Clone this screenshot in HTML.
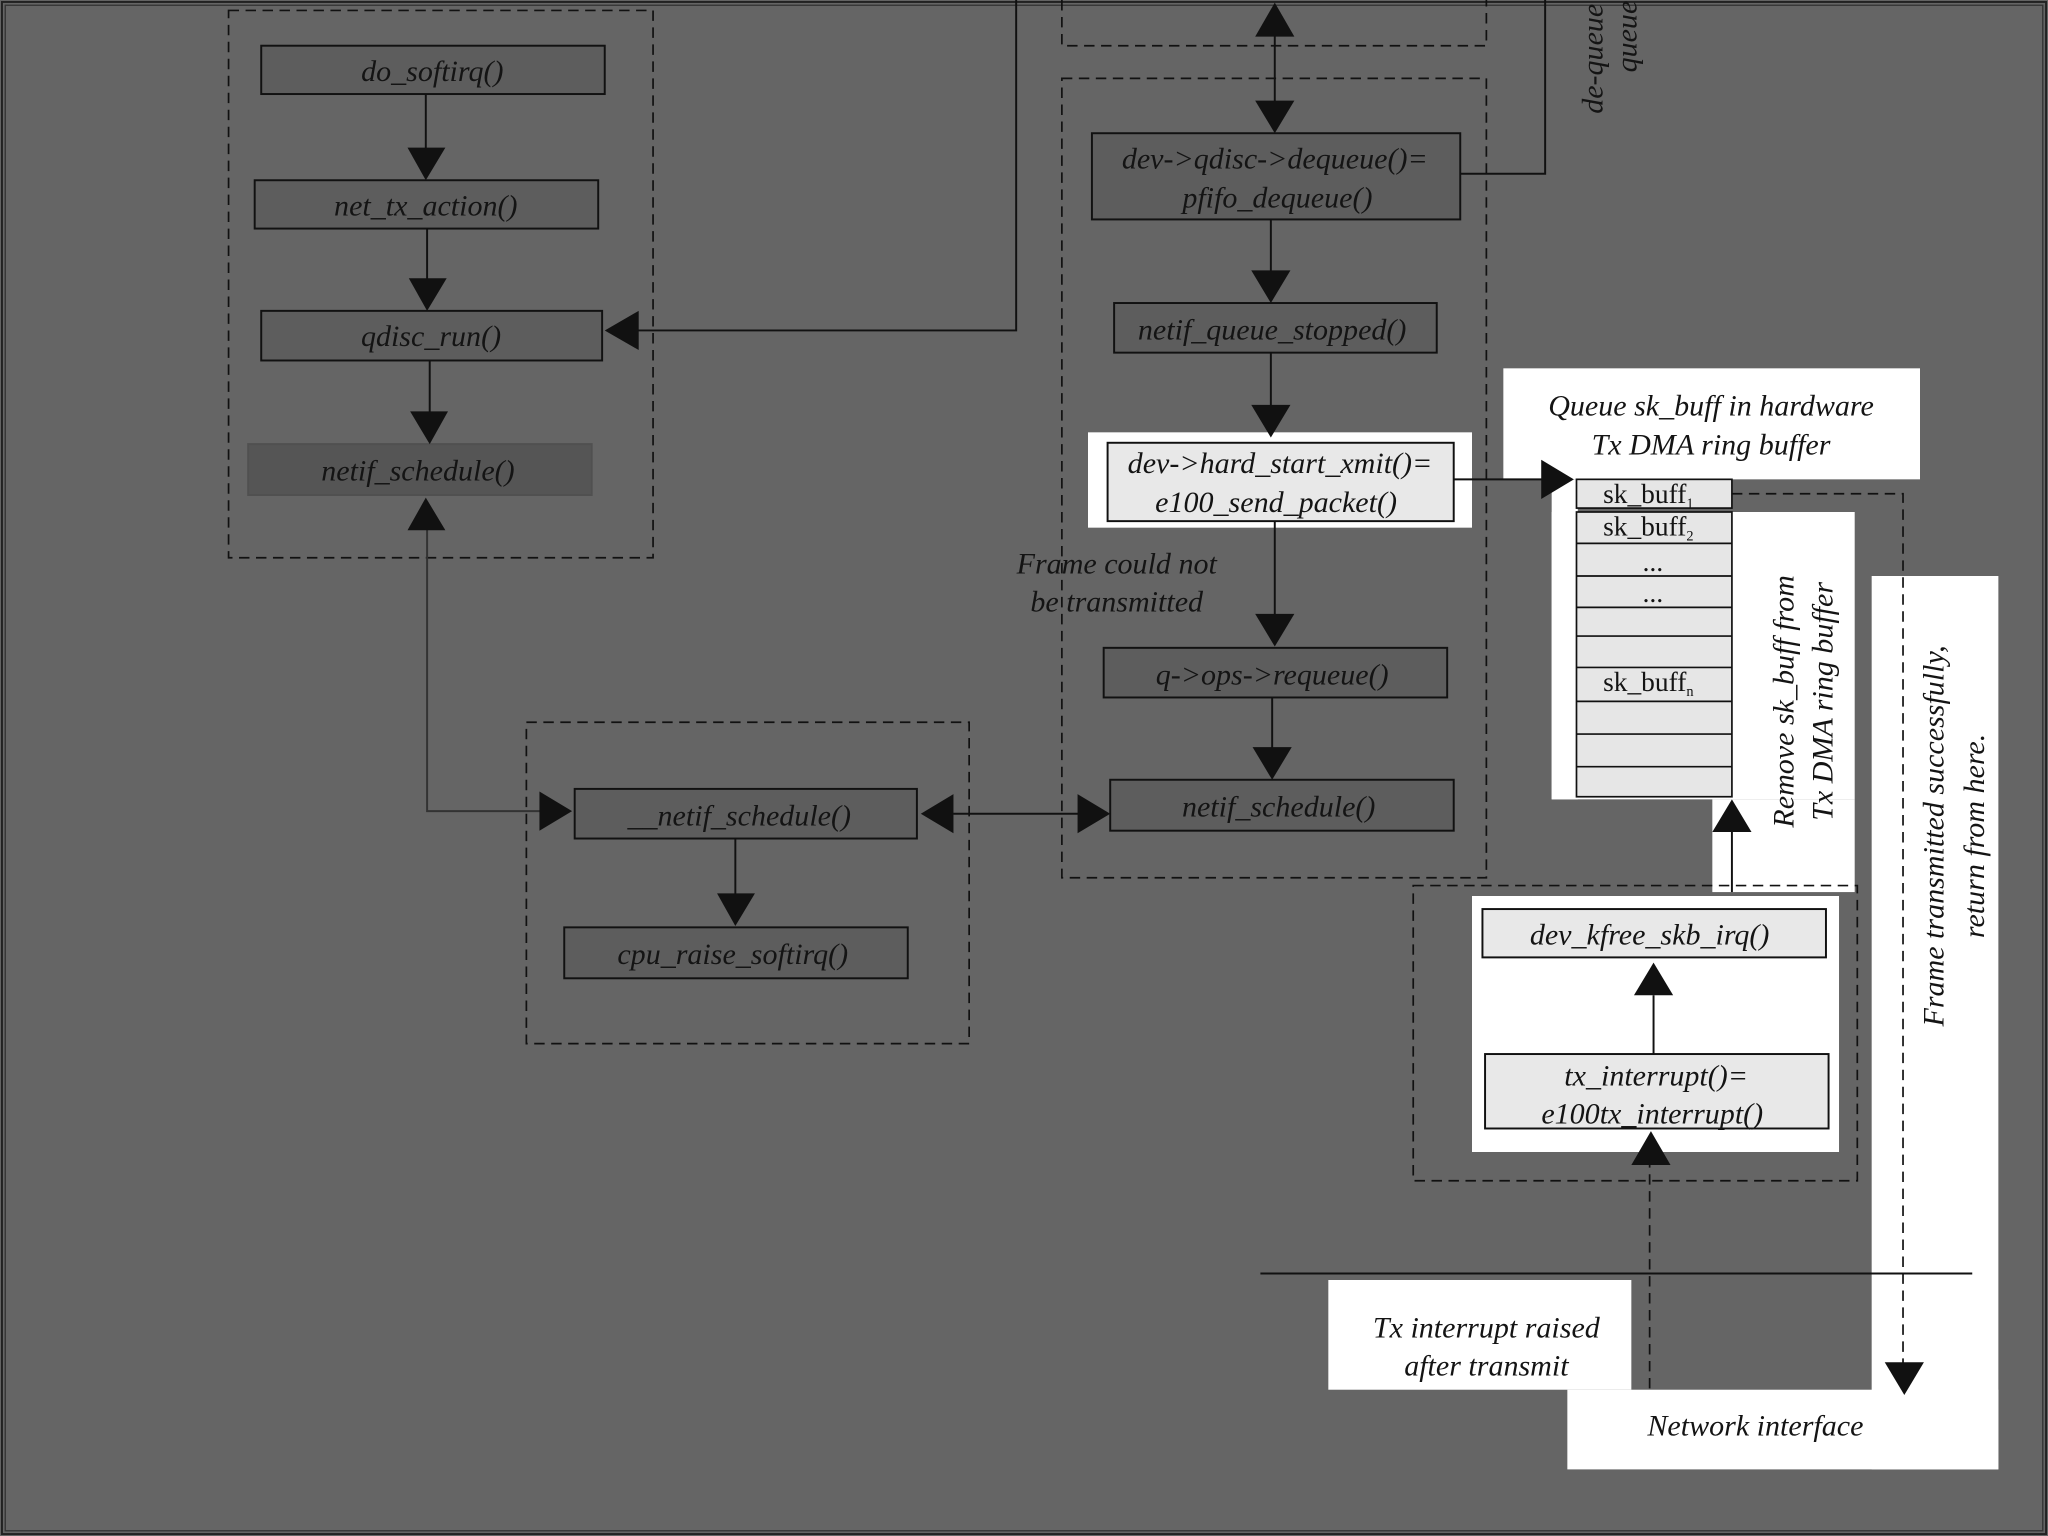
<!DOCTYPE html>
<html><head><style>
html,body{margin:0;padding:0;background:#656565;}
svg{display:block}
text{font-family:"Liberation Serif",serif;font-style:italic;fill:#141414;}
</style></head><body>
<svg width="2048" height="1536" viewBox="0 0 1568 1176" xmlns="http://www.w3.org/2000/svg">
<rect x="0" y="0" width="1568" height="1176" fill="#656565"/>
<rect x="1.5" y="1.5" width="1565" height="1173" fill="none" stroke="#222" stroke-width="1.5"/>
<rect x="4" y="4" width="1560" height="1168" fill="none" stroke="#333" stroke-width="1"/>

<!-- white panels -->
<rect x="833" y="331" width="294" height="73" fill="#fff"/>
<rect x="1151" y="282" width="319" height="85" fill="#fff"/>
<rect x="1188" y="367" width="20" height="245" fill="#fff"/>
<rect x="1188" y="392" width="232" height="220" fill="#fff"/>
<rect x="1311" y="612" width="109" height="71" fill="#fff"/>
<rect x="1433" y="441" width="97" height="684" fill="#fff"/>
<rect x="1127" y="686" width="281" height="196" fill="#fff"/>
<rect x="1017" y="980" width="232" height="84" fill="#fff"/>
<rect x="1200" y="1064" width="330" height="61" fill="#fff"/>

<g fill="none" stroke="#111" stroke-width="1.3" stroke-dasharray="8,5">
<rect x="175" y="8" width="325" height="419"/>
<rect x="403" y="553" width="339" height="246"/>
<path d="M813 0 V35 H1138 V0"/>
<rect x="813" y="60" width="325" height="612"/>
<rect x="1082" y="678" width="340" height="226"/>
<path d="M1326 378 H1457 V1045"/>
<path d="M1263 1063 V892"/>
</g>

<!-- boxes -->
<g stroke="#111" stroke-width="1.5" fill="#5d5d5d">
<rect x="200" y="35" width="263" height="37"/>
<rect x="195" y="138" width="263" height="37"/>
<rect x="200" y="238" width="261" height="38"/>
<rect x="190" y="340" width="263" height="39" fill="#555" stroke="#505050"/>
<rect x="440" y="604" width="262" height="38"/>
<rect x="432" y="710" width="263" height="39"/>
<rect x="836" y="102" width="282" height="66"/>
<rect x="853" y="232" width="247" height="38"/>
<rect x="848" y="339" width="265" height="60" fill="#e8e8e8"/>
<rect x="845" y="496" width="263" height="38"/>
<rect x="850" y="597" width="263" height="39"/>
<rect x="1135" y="696" width="263" height="37" fill="#e8e8e8"/>
<rect x="1137" y="807" width="263" height="57" fill="#e8e8e8"/>
</g>
<!-- ring buffer -->
<g stroke="#111" stroke-width="1.3" fill="#e6e6e6">
<rect x="1207" y="367" width="119" height="22"/>
<rect x="1207" y="392" width="119" height="218"/>
<path d="M1207 416 H1326 M1207 441 H1326 M1207 465 H1326 M1207 487 H1326 M1207 511 H1326 M1207 537 H1326 M1207 562 H1326 M1207 587 H1326" fill="none"/>
</g>

<!-- solid lines -->
<g stroke="#111" stroke-width="1.5" fill="none">
<path d="M326 72 V120"/><path d="M327 175 V220"/><path d="M329 276 V320"/>
<path d="M778 0 V253 H488"/>
<path d="M327 405 V621 H415" stroke="#333"/>
<path d="M563 642 V690"/>
<path d="M730 623 H826"/>
<path d="M976 25 V80"/>
<path d="M1118 133 H1183 V0"/>
<path d="M973 168 V212"/><path d="M973 270 V315"/>
<path d="M1113 367 H1182"/>
<path d="M976 399 V475"/><path d="M974 534 V578"/>
<path d="M1326 636 V683"/>
<path d="M1266 762 V807"/>
<path d="M965 975 H1510"/>
</g>
<!-- arrowheads -->
<g fill="#111">
<polygon points="312,113 341,113 326,138"/>
<polygon points="313,213 342,213 327,238"/>
<polygon points="314,315 343,315 329,340"/>
<polygon points="463,253 489,238 489,268"/>
<polygon points="312,406 341,406 326,381"/>
<polygon points="413,606 438,621 413,636"/>
<polygon points="549,684 578,684 563,709"/>
<polygon points="705,623 730,608 730,638"/>
<polygon points="825,608 850,623 825,638"/>
<polygon points="961,28 991,28 976,2"/>
<polygon points="961,77 991,77 976,102"/>
<polygon points="958,207 988,207 973,232"/>
<polygon points="958,310 988,310 973,335"/>
<polygon points="1180,352 1205,367 1180,382"/>
<polygon points="961,470 991,470 976,495"/>
<polygon points="959,572 989,572 974,597"/>
<polygon points="1311,637 1341,637 1326,612"/>
<polygon points="1251,762 1281,762 1266,737"/>
<polygon points="1249,892 1279,892 1264,866"/>
<polygon points="1443,1043 1473,1043 1458,1068"/>
</g>

<!-- texts -->
<g font-size="23" text-anchor="middle">
<text x="331" y="62">do_softirq()</text>
<text x="326" y="165">net_tx_action()</text>
<text x="330" y="265">qdisc_run()</text>
<text x="320" y="368">netif_schedule()</text>
<text x="566" y="632">__netif_schedule()</text>
<text x="561" y="738">cpu_raise_softirq()</text>
<text x="976" y="129">dev-&gt;qdisc-&gt;dequeue()=</text>
<text x="978" y="159">pfifo_dequeue()</text>
<text x="974" y="260">netif_queue_stopped()</text>
<text x="980" y="362">dev-&gt;hard_start_xmit()=</text>
<text x="977" y="392">e100_send_packet()</text>
<text x="855" y="439">Frame could not</text>
<text x="855" y="468">be transmitted</text>
<text x="974" y="524">q-&gt;ops-&gt;requeue()</text>
<text x="979" y="625">netif_schedule()</text>
<text x="1310" y="318">Queue sk_buff in hardware</text>
<text x="1310" y="348">Tx DMA ring buffer</text>
<text x="1263" y="723">dev_kfree_skb_irq()</text>
<text x="1268" y="831">tx_interrupt()=</text>
<text x="1265" y="860">e100tx_interrupt()</text>
<text x="1138" y="1024">Tx interrupt raised</text>
<text x="1138" y="1053">after transmit</text>
<text x="1344" y="1099">Network interface</text>
</g>
<g font-size="21" text-anchor="middle" font-style="normal">
<text x="1262" y="385" style="font-style:normal">sk_buff<tspan font-size="11" dy="4">1</tspan></text>
<text x="1262" y="410" style="font-style:normal">sk_buff<tspan font-size="11" dy="4">2</tspan></text>
<text x="1266" y="437">...</text>
<text x="1266" y="461">...</text>
<text x="1262" y="529" style="font-style:normal">sk_buff<tspan font-size="11" dy="4">n</tspan></text>
</g>
<g font-size="23" text-anchor="middle">
<text transform="translate(1373,537) rotate(-90)">Remove sk_buff from</text>
<text transform="translate(1403,537) rotate(-90)">Tx DMA ring buffer</text>
<text transform="translate(1488,640) rotate(-90)">Frame  transmitted successfully,</text>
<text transform="translate(1519,640) rotate(-90)">return from here.</text>
<text transform="translate(1227,45) rotate(-90)">de-queue</text>
<text transform="translate(1253,28) rotate(-90)">queue</text>
</g>
</svg>
</body></html>
